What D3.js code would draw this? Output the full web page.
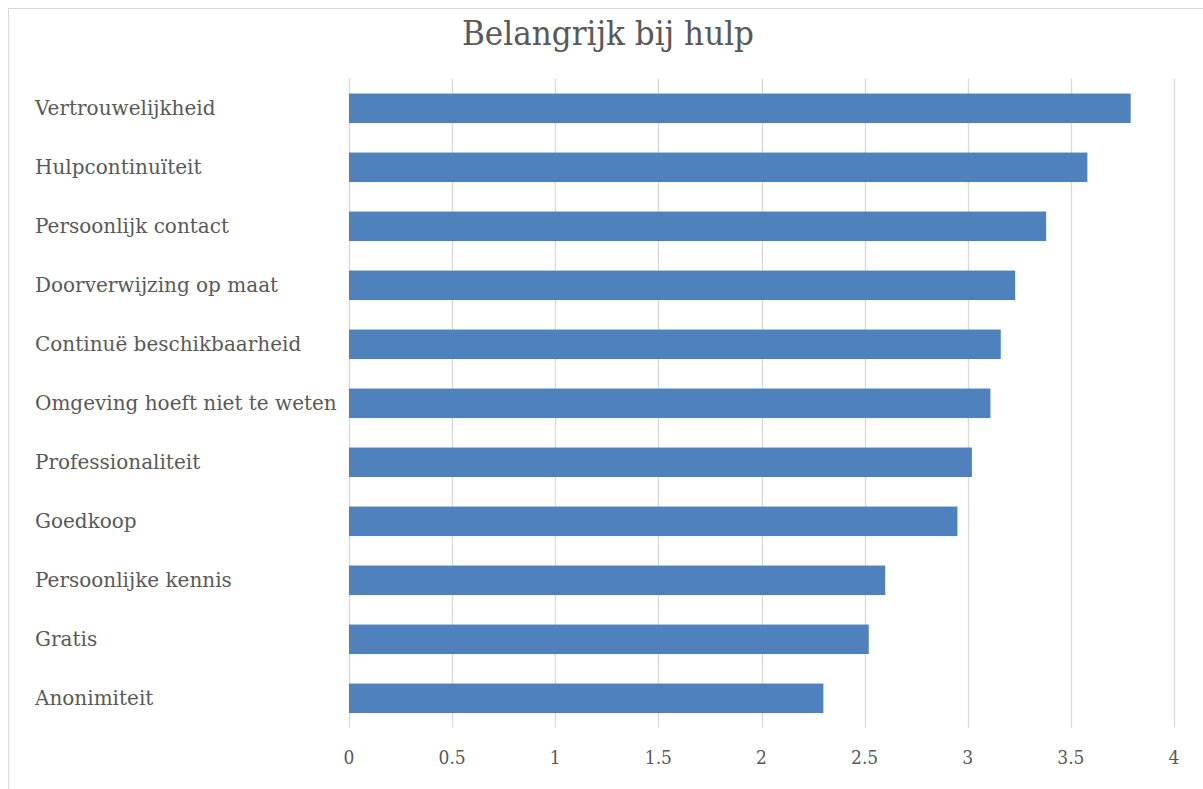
<!DOCTYPE html>
<html>
<head>
<meta charset="utf-8">
<script src="https://cdn.jsdelivr.net/npm/d3@7"></script>
<style>
  html, body { margin: 0; padding: 0; background: #fff; }
  svg { display: block; }
</style>
</head>
<body>
<svg id="chart" width="1203" height="789"></svg>
<script>
// Categories (top to bottom) and their mean scores
const categories = [
  "Vertrouwelijkheid",
  "Hulpcontinuïteit",
  "Persoonlijk contact",
  "Doorverwijzing op maat",
  "Continuë beschikbaarheid",
  "Omgeving hoeft niet te weten",
  "Professionaliteit",
  "Goedkoop",
  "Persoonlijke kennis",
  "Gratis",
  "Anonimiteit"
];
const scores = [3.79, 3.58, 3.38, 3.23, 3.16, 3.11, 3.02, 2.95, 2.60, 2.52, 2.30];
const xTicks = [0, 0.5, 1, 1.5, 2, 2.5, 3, 3.5, 4];
const title = "Belangrijk bij hulp";

const svg = d3.select("#chart");
const serifCond = "'DejaVu Serif Condensed', 'DejaVu Serif', serif";
const serif = "'DejaVu Serif', serif";
const textColor = "#595959";
const gridColor = "#d9d9d9";
const barColor = "#4f81bd";

// chart area frame
svg.append("rect")
  .attr("x", 8.5).attr("y", 8.5)
  .attr("width", 1220).attr("height", 800)
  .attr("fill", "none")
  .attr("stroke", "#d9d9d9")
  .attr("stroke-width", 1);

const plot = { left: 349, right: 1174, top: 78.8, bottom: 727.8 };

const x = d3.scaleLinear().domain([0, 4]).range([plot.left, plot.right]);
const y = d3.scaleBand()
  .domain(categories)
  .range([plot.top, plot.bottom])
  .paddingInner(0.5)
  .paddingOuter(0.25);

// vertical gridlines
svg.append("g")
  .selectAll("line")
  .data(xTicks)
  .join("line")
  .attr("x1", d => Math.round(x(d)) + 0.5)
  .attr("x2", d => Math.round(x(d)) + 0.5)
  .attr("y1", plot.top)
  .attr("y2", plot.bottom)
  .attr("stroke", gridColor)
  .attr("stroke-width", 1.3);

// bars
svg.append("g")
  .selectAll("rect")
  .data(categories.map((c, i) => ({ c, v: scores[i] })))
  .join("rect")
  .attr("x", x(0))
  .attr("y", d => y(d.c))
  .attr("width", d => x(d.v) - x(0))
  .attr("height", y.bandwidth())
  .attr("fill", barColor);

// x tick labels
svg.append("g")
  .selectAll("text")
  .data(xTicks)
  .join("text")
  .attr("x", d => x(d))
  .attr("y", 757.5)
  .attr("dy", "0.35em")
  .attr("text-anchor", "middle")
  .attr("fill", textColor)
  .style("font-family", serifCond)
  .style("font-size", "19px")
  .text(d => d3.format("")(d));

// category labels, left aligned
svg.append("g")
  .selectAll("text")
  .data(categories)
  .join("text")
  .attr("x", 35)
  .attr("y", d => y(d) + y.bandwidth() / 2)
  .attr("dy", "0.35em")
  .attr("fill", textColor)
  .style("font-family", serif)
  .style("font-size", "20px")
  .text(d => d);

// title
svg.append("text")
  .attr("x", 608)
  .attr("y", 45)
  .attr("text-anchor", "middle")
  .attr("fill", textColor)
  .attr("textLength", 292)
  .attr("lengthAdjust", "spacingAndGlyphs")
  .style("font-family", serifCond)
  .style("font-size", "34px")
  .text(title);
</script>
</body>
</html>
